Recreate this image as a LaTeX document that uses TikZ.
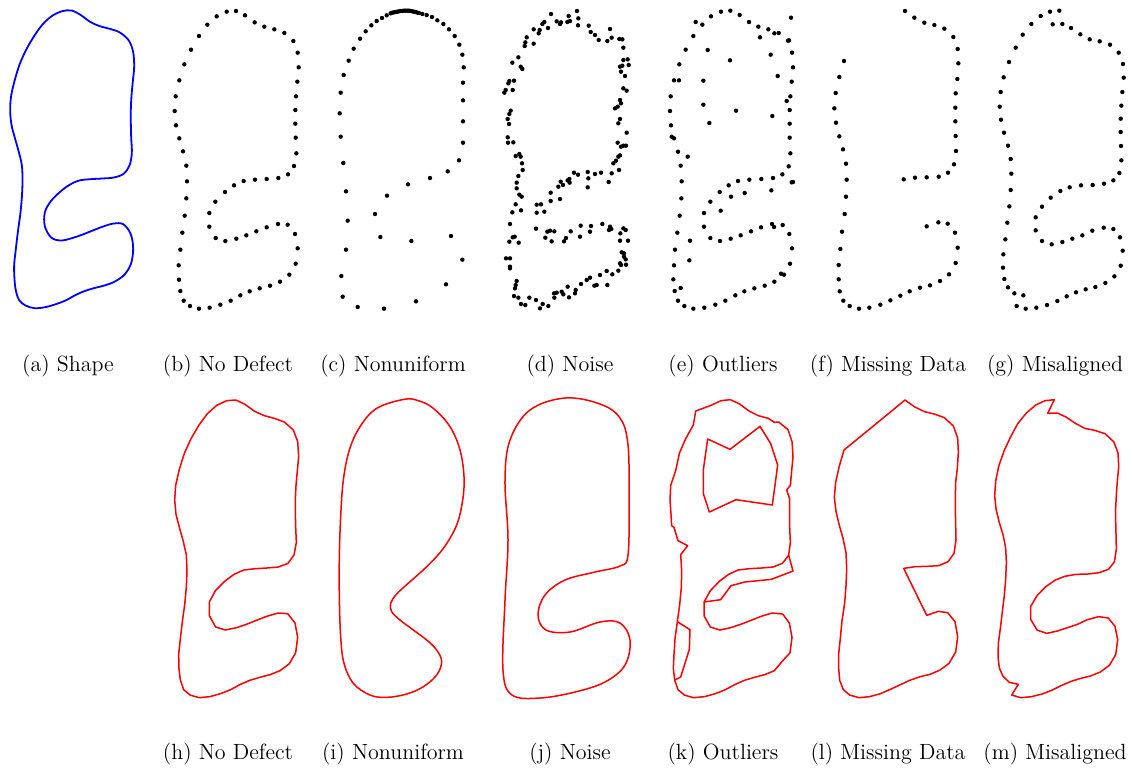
\documentclass[tikz,border=0pt]{standalone}
\tikzset{
  shapeline/.style={blue, line width=0.9pt, line join=round},
  recon/.style={red, line width=0.75pt, line join=round},
  captxt/.style={anchor=base, inner sep=0pt, font=\fontsize{11pt}{13pt}\selectfont},
  panel/.style={x=0.166667pt, y=-0.166667pt}
}
\newcommand\cl{}
\newcommand\buildlist[1]{\gdef\cl{}\foreach \a/\b in #1{\xdef\cl{\cl(\a,\b)}}}
\newcommand\drawpts[3]{\buildlist{#3}\edef\tmpcmd{\noexpand\draw[#1] plot[#2] coordinates {\cl};}\tmpcmd}
\newcommand\dotset[1]{\foreach \a/\b in #1{\fill (\a,\b) circle[radius=1.1pt];}}

\def\Blist{228/33,255/46,284/67,313/80,343/88,373/99,400/123,413/158,416/202,412/245,408/289,406/330,406/371,407/413,409/460,402/498,384/523,355/534,320/537,285/539,251/543,222/556,195/576,166/605,148/639,148/680,167/714,196/723,229/716,259/706,289/694,320/682,354/672,383/674,405/702,413/745,407/791,388/824,360/845,330/857,299/865,269/874,241/886,212/902,181/914,149/923,117/926,90/918,71/902,61/873,57/839,56/796,61/749,67/698,74/647,79/595,81/544,79/497,69/454,58/415,48/376,44/333,47/289,58/241,73/193,93/149,117/108,142/74,170/49,200/35}

\def\Clist{186/54,200/46,212/40,217/38,222/37,227/36,232/35,237/34,242/33,247/33,252/32,257/32,262/32,267/32,272/33,277/34,282/35,287/36,292/38,297/39,307/42,320/45,336/51,352/61,370/72,387/88,404/108,418/134,427/164,431/202,429/248,429/301,429/364,429/428,417/481,383/514,330/534,264/553,201/587,165/642,181/711,274/723,393/708,427/779,378/853,288/904,192/926,113/921,68/890,64/828,78/749,83/662,78/574,70/489,62/410,59/340,62/278,71/225,86/182,101/146,120/116,137/94,154/76,170/63}

\def\Dlist{183/42,236/48,261/33,265/55,264/76,240/63,232/66,213/67,200/64,210/72,174/84,163/66,157/72,149/90,146/100,131/88,131/131,110/112,106/127,104/138,85/172,67/188,92/200,97/207,72/242,58/243,55/250,68/270,47/270,43/278,62/332,58/342,53/357,57/372,53/412,54/428,70/427,77/468,88/462,92/470,96/490,98/510,85/528,80/548,80/565,88/584,95/590,77/613,67/637,93/631,60/672,74/710,68/712,58/725,86/728,48/775,60/775,60/800,60/805,80/843,77/855,75/865,72/888,85/893,93/912,106/915,118/893,138/900,150/925,158/912,175/918,192/880,200/878,193/893,215/875,220/883,233/860,237/892,255/880,257/870,273/852,290/840,300/833,313/857,320/855,330/825,350/813,352/855,367/823,385/812,390/790,393/795,402/770,407/778,402/760,395/757,408/794,390/722,414/722,400/685,407/690,391/700,360/680,364/687,357/690,337/672,303/678,300/695,272/677,270/710,242/694,228/714,222/724,193/694,180/692,172/695,185/724,166/713,138/686,140/614,153/613,140/638,163/635,182/578,182/603,210/597,205/560,212/545,219/555,233/541,239/548,238/537,252/518,264/524,293/516,295/535,293/562,315/522,333/518,356/546,365/520,387/510,370/490,378/482,385/470,390/466,393/440,400/437,408/437,383/428,410/398,385/370,390/357,375/325,383/320,390/300,393/310,410/272,400/265,405/228,393/215,390/200,400/180,413/178,397/197,416/195,400/143,397/118,388/117,360/87,365/113,352/123,326/120,315/105,302/96,296/77}

\def\Elist{213/35,241/32,269/45,297/66,325/80,355/88,373/100,386/99,414/122,417/121,426/158,429/202,425/245,421/289,410/303,419/330,419/371,419/413,421/460,416/499,397/523,369/534,334/537,298/539,264/543,236/556,209/576,181/605,162/639,162/680,181/714,210/723,242/716,272/706,303/694,333/682,366/672,372/681,398/675,418/702,426/745,420/791,393/821,402/824,373/845,344/857,313/865,283/874,256/886,226/902,196/914,163/923,130/926,103/918,84/902,74/873,92/864,70/838,72/796,75/749,82/698,89/647,94/595,95/544,92/497,84/455,113/470,72/415,65/410,63/376,60/333,62/289,72/241,87/241,88/193,107/149,130/108,137/66,157/74,183/49,173/150,240/181,160/242,160/314,178/369,258/332,362/164,383/228,367/348,330/112,423/53,243/590,284/579,364/571,212/632,120/722,118/781,425/547,429/546}

\def\Flist{285/33,313/53,343/68,373/75,403/86,430/111,443/147,445/190,442/237,437/280,436/323,436/364,437/408,438/453,432/493,414/518,386/530,350/532,315/533,281/538,350/679,385/667,413/671,435/698,443/743,437/789,417/823,390/843,360/856,330/863,299/874,271/887,241/901,211/914,178/923,147/926,119/918,100/902,89/874,86/838,86/795,91/747,96/695,104/642,108/590,110/539,108/491,99/448,88/409,78/368,73/325,77/279,88/231,102/183}

\def\Glist{238/32,218/73,247/72,273/84,301/103,329/118,359/124,390/134,416/158,429/192,431/233,427/276,424/317,422/356,422/396,423/438,424/481,418/519,400/541,372/551,338/555,303/556,269/562,241/573,212/593,186/620,167/652,167/691,186/723,215/733,247/726,277/716,307/706,337/692,371/683,400/687,420/712,428/752,422/797,403/829,376/849,346/861,317/868,288/877,260/889,232/903,201/915,169/923,137/926,110/918,130/886,103/880,84/862,73/837,69/803,70/763,76/718,82/668,88/619,92/570,94/521,92/477,84/437,72/398,63/359,59/320,62/276,71/232,87/186,107/143,128/104,154/72,182/48,210/35}

\def\Ilist{252/28,295/32,340/55,390/110,420/180,432/260,428/330,410/405,370/475,320/530,270/575,230/612,212/640,215/665,240/690,280/720,320/750,350/780,365/815,350/855,310/890,260/912,200/922,150/915,100/880,72/820,62/740,58/620,58/500,62/380,70/270,88/180,120/110,170/55}

\def\Jlist{225/24,330/42,390/84,414/165,417/330,414/495,390/528,315/546,225/570,165/615,144/675,168/720,240/726,330/696,390/699,420/750,405/825,345/876,255/906,150/924,66/915,39/840,45/630,54/450,45/270,60/150,120/60}

\def\Kouter{416/499,397/523,369/534,334/537,298/539,264/543,236/556,209/576,181/605,162/639,162/680,181/714,210/723,242/716,272/706,303/694,333/682,366/672,398/675,418/702,426/745,420/791,393/821,373/845,344/857,313/865,283/874,256/886,226/902,196/914,163/923,130/926,103/918,84/902,74/873,70/838,72/796,75/749,82/698,89/647,94/595,95/544,92/497,113/470,84/455,72/415,65/410,63/376,60/333,62/289,78/241,88/193,107/149,130/108,137/66,183/49,213/35,241/32,269/45,297/66,325/80,355/88,373/100,386/99,414/122,426/158,429/202,425/245,421/289,410/303,419/330,419/371,419/413,421/460}
\def\Kspike{416/499,429/546,364/571,284/579,243/590,212/632,162/639}
\def\Kquad{74/873,92/864,118/781,120/722,82/698}
\def\Kinner{173/150,240/181,330/112,362/164,383/228,367/348,258/332,178/369,160/314,160/242}

\begin{document}
\begin{tikzpicture}[x=0.5pt, y=-0.5pt]
\useasboundingbox (0,0) rectangle (1133,767);

% (a) shape
\begin{scope}[shift={(-4.5,-0.5)}, panel]
  \drawpts{shapeline}{smooth cycle, tension=0.55}{\Blist}
\end{scope}
% (b)
\begin{scope}[shift={(160,0)}, panel] \dotset{\Blist} \end{scope}
% (c)
\begin{scope}[shift={(320,0)}, panel] \dotset{\Clist} \end{scope}
% (d)
\begin{scope}[shift={(490,0)}, panel] \dotset{\Dlist} \end{scope}
% (e)
\begin{scope}[shift={(650,0)}, panel] \dotset{\Elist} \end{scope}
% (f)
\begin{scope}[shift={(810,0)}, panel] \dotset{\Flist} \end{scope}
% (g)
\begin{scope}[shift={(980,0)}, panel] \dotset{\Glist} \end{scope}

% (h)
\begin{scope}[shift={(160,389)}, panel]
  \drawpts{recon}{sharp cycle}{\Blist}
\end{scope}
% (i)
\begin{scope}[shift={(320,390)}, panel]
  \drawpts{recon}{smooth cycle, tension=0.6}{\Ilist}
\end{scope}
% (j)
\begin{scope}[shift={(490,390)}, panel]
  \drawpts{recon}{smooth cycle, tension=0.6}{\Jlist}
\end{scope}
% (k)
\begin{scope}[shift={(650,389)}, panel]
  \drawpts{recon}{sharp cycle}{\Kouter}
  \drawpts{recon}{sharp plot}{\Kspike}
  \drawpts{recon}{sharp plot}{\Kquad}
  \drawpts{recon}{sharp cycle}{\Kinner}
\end{scope}
% (l)
\begin{scope}[shift={(810,389)}, panel]
  \drawpts{recon}{sharp cycle}{\Flist}
\end{scope}
% (m)
\begin{scope}[shift={(975,389)}, panel]
  \drawpts{recon}{sharp cycle}{\Glist}
\end{scope}

% captions
\node[captxt] (ca) at (68,371) {(a) Shape};
\node[captxt] (cb) at (228,371) {(b) No Defect};
\node[captxt] (cc) at (393,371) {(c) Nonuniform};
\node[captxt] (cd) at (570,371) {(d) Noise};
\node[captxt] (ce) at (723,371) {(e) Outliers};
\node[captxt] (cf) at (888,371) {(f) Missing Data};
\node[captxt] (cg) at (1055,371) {(g) Misaligned};
\node[captxt] (ch) at (228,759) {(h) No Defect};
\node[captxt] (ci) at (393,759) {(i) Nonuniform};
\node[captxt] (cj) at (570,759) {(j) Noise};
\node[captxt] (ck) at (723,759) {(k) Outliers};
\node[captxt] (cl) at (888,759) {(l) Missing Data};
\node[captxt] (cm) at (1055,759) {(m) Misaligned};
\end{tikzpicture}
\end{document}
